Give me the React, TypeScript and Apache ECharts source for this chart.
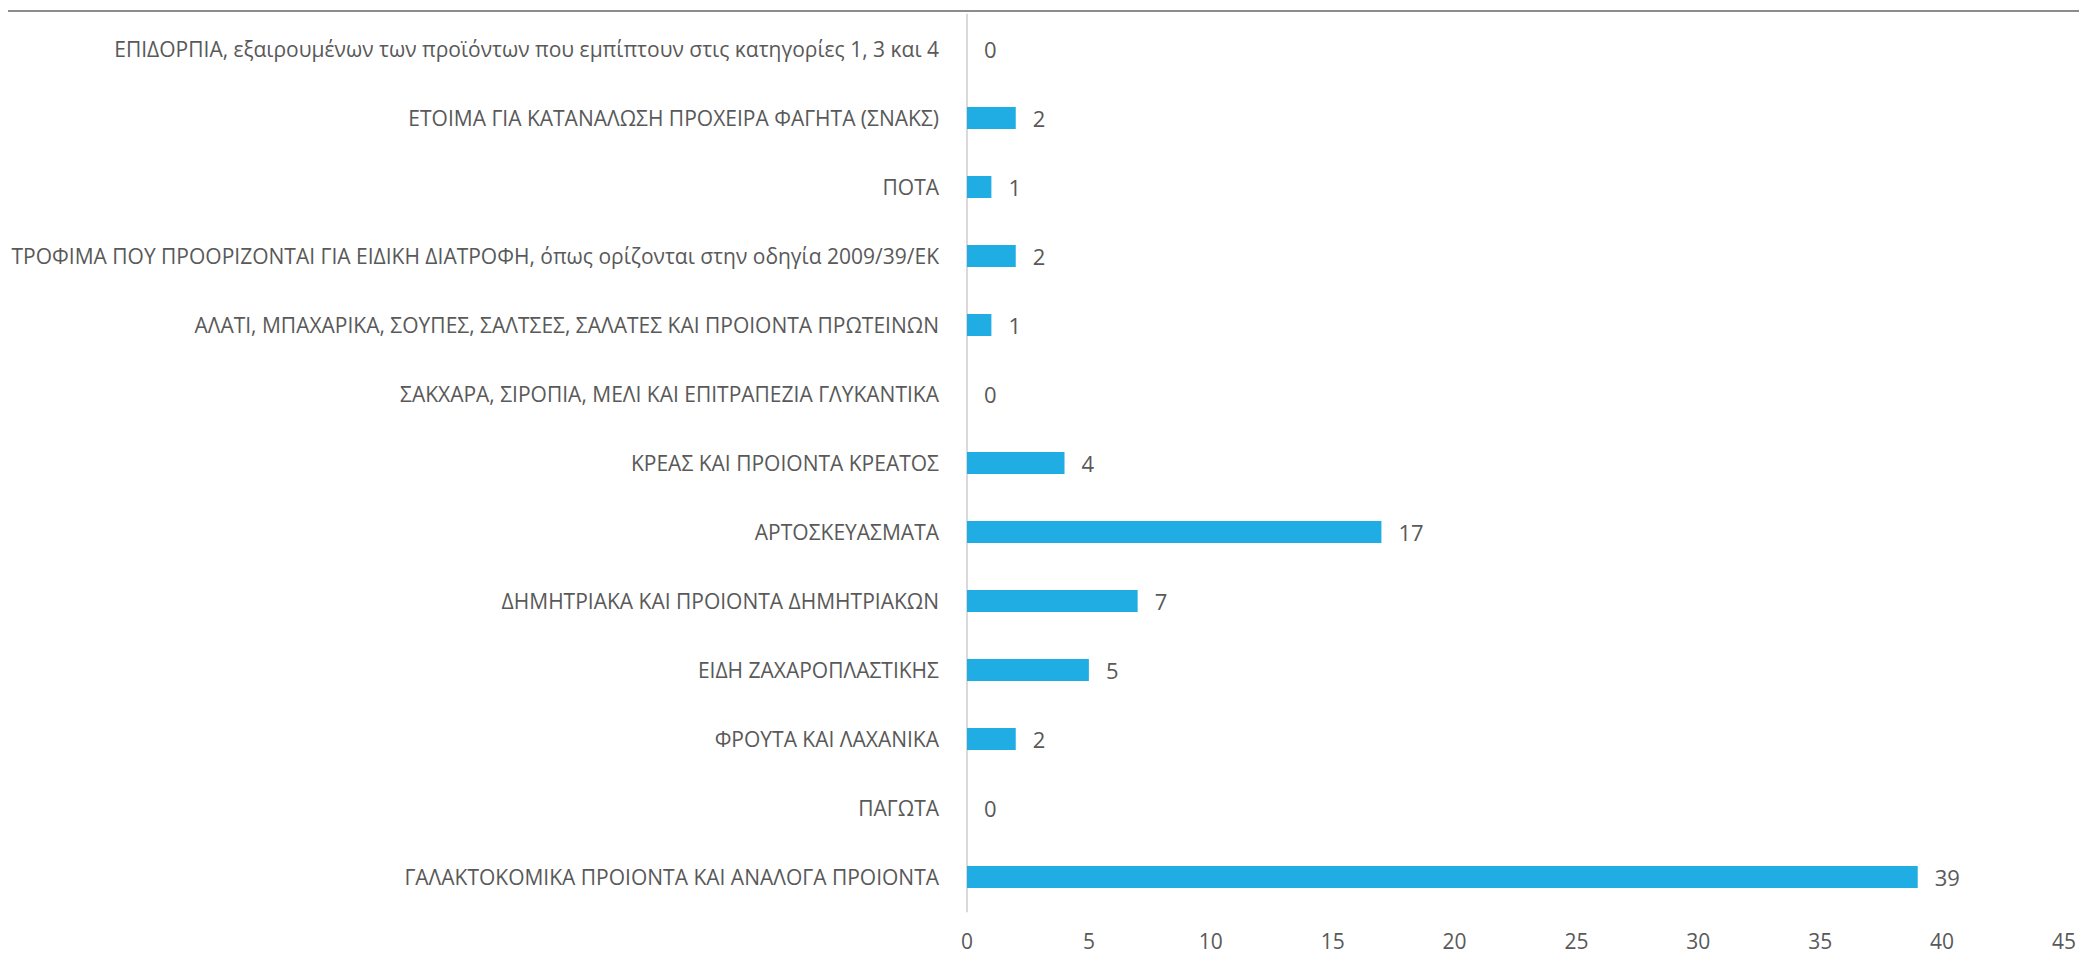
import React, { useEffect, useRef } from "react";
import * as echarts from "echarts";

// Categories listed bottom-to-top (ECharts category y-axis order)
const categories: string[] = [
  "ΓΑΛΑΚΤΟΚΟΜΙΚΑ ΠΡΟΙΟΝΤΑ ΚΑΙ ΑΝΑΛΟΓΑ ΠΡΟΙΟΝΤΑ",
  "ΠΑΓΩΤΑ",
  "ΦΡΟΥΤΑ ΚΑΙ ΛΑΧΑΝΙΚΑ",
  "ΕΙΔΗ ΖΑΧΑΡΟΠΛΑΣΤΙΚΗΣ",
  "ΔΗΜΗΤΡΙΑΚΑ ΚΑΙ ΠΡΟΙΟΝΤΑ ΔΗΜΗΤΡΙΑΚΩΝ",
  "ΑΡΤΟΣΚΕΥΑΣΜΑΤΑ",
  "ΚΡΕΑΣ ΚΑΙ ΠΡΟΙΟΝΤΑ ΚΡΕΑΤΟΣ",
  "ΣΑΚΧΑΡΑ, ΣΙΡΟΠΙΑ, ΜΕΛΙ ΚΑΙ ΕΠΙΤΡΑΠΕΖΙΑ ΓΛΥΚΑΝΤΙΚΑ",
  "ΑΛΑΤΙ, ΜΠΑΧΑΡΙΚΑ, ΣΟΥΠΕΣ, ΣΑΛΤΣΕΣ, ΣΑΛΑΤΕΣ ΚΑΙ ΠΡΟΙΟΝΤΑ ΠΡΩΤΕΙΝΩΝ",
  "ΤΡΟΦΙΜΑ ΠΟΥ ΠΡΟΟΡΙΖΟΝΤΑΙ ΓΙΑ ΕΙΔΙΚΗ ΔΙΑΤΡΟΦΗ, όπως ορίζονται στην οδηγία 2009/39/ΕΚ",
  "ΠΟΤΑ",
  "ΕΤΟΙΜΑ ΓΙΑ ΚΑΤΑΝΑΛΩΣΗ ΠΡΟΧΕΙΡΑ ΦΑΓΗΤΑ (ΣΝΑΚΣ)",
  "ΕΠΙΔΟΡΠΙΑ, εξαιρουμένων των προϊόντων που εμπίπτουν στις κατηγορίες 1, 3 και 4",
];

const counts: number[] = [39, 0, 2, 5, 7, 17, 4, 0, 1, 2, 1, 2, 0];

const xMin = 0;
const xMax = 45;
const xInterval = 5;

const FONT = "'Open Sans', sans-serif";
const TEXT_COLOR = "#595959";

export default function App() {
  const ref = useRef<HTMLDivElement>(null);

  useEffect(() => {
    if (!ref.current) return;
    const chart = echarts.init(ref.current, null, { renderer: "svg" });
    chart.setOption({
      animation: false,
      backgroundColor: "#ffffff",
      textStyle: { fontFamily: FONT },
      grid: { left: 967, right: 13, top: 14.5, bottom: 44.5, containLabel: false },
      graphic: [
        {
          type: "line",
          shape: { x1: 8, y1: 11, x2: 2079, y2: 11 },
          style: { stroke: "#8c8c8c", lineWidth: 2 },
          silent: true,
        },
      ],
      xAxis: {
        type: "value",
        min: xMin,
        max: xMax,
        interval: xInterval,
        axisLine: { show: false },
        axisTick: { show: false },
        splitLine: { show: false },
        axisLabel: {
          color: TEXT_COLOR,
          fontSize: 21,
          lineHeight: 18,
          fontFamily: FONT,
          margin: 20,
        },
      },
      yAxis: {
        type: "category",
        data: categories,
        axisLine: { show: true, lineStyle: { color: "#d9d9d9", width: 2 } },
        axisTick: { show: false },
        splitLine: { show: false },
        axisLabel: {
          color: TEXT_COLOR,
          fontSize: 21,
          fontFamily: FONT,
          margin: 28,
        },
      },
      series: [
        {
          type: "bar",
          data: counts,
          barWidth: 22,
          itemStyle: { color: "#1FADE3" },
          label: {
            show: true,
            position: "right",
            distance: 17,
            color: TEXT_COLOR,
            fontSize: 22,
            fontFamily: FONT,
          },
        },
      ],
    });
    return () => chart.dispose();
  }, []);

  return (
    <div
      ref={ref}
      style={{ position: "fixed", left: 0, top: 0, width: 2079, height: 956, background: "#fff" }}
    />
  );
}
